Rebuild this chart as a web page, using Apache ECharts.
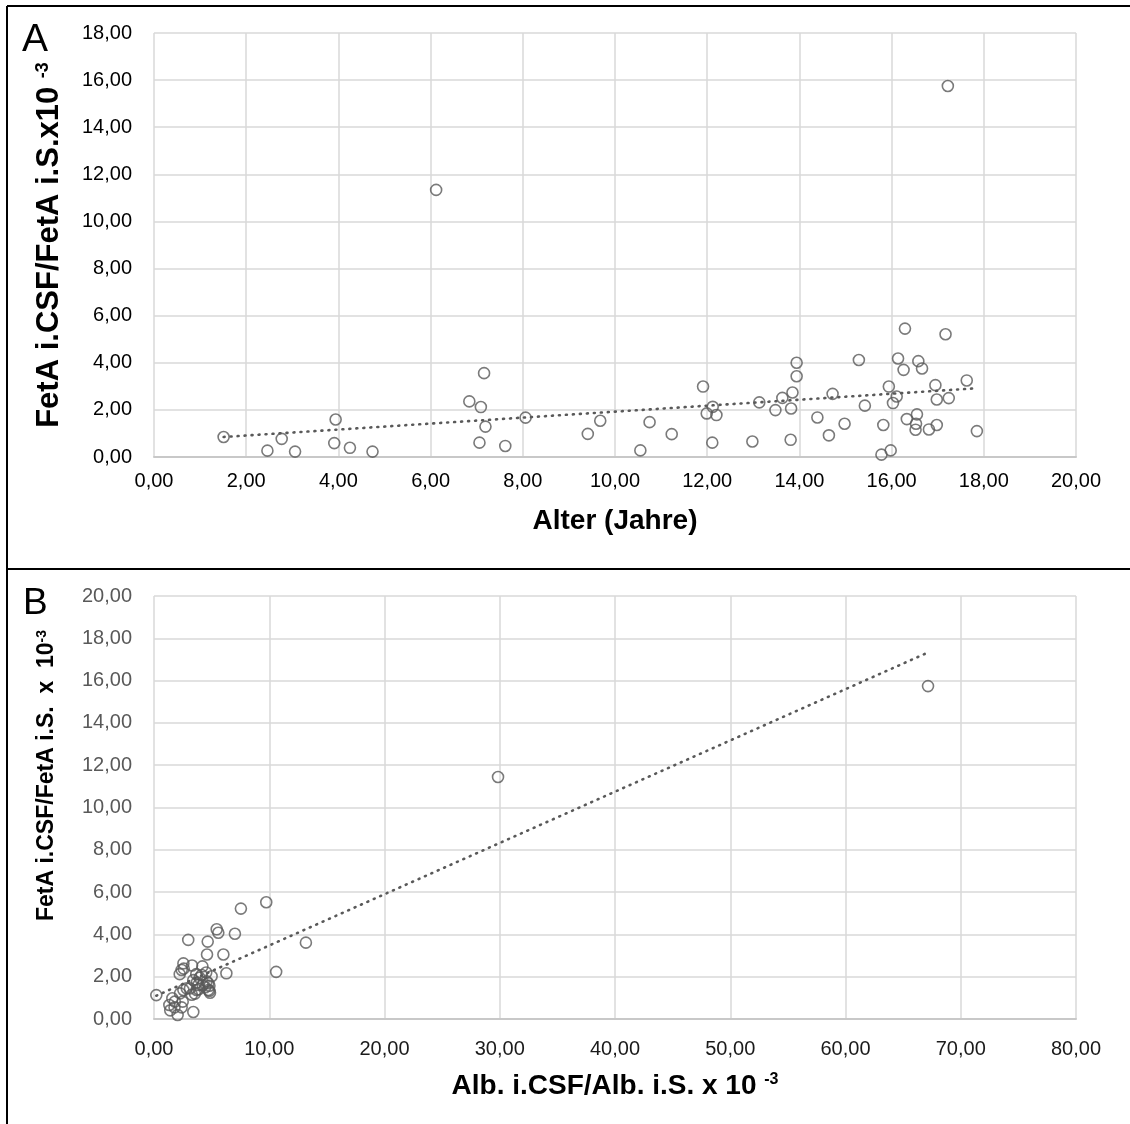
<!DOCTYPE html>
<html>
<head>
<meta charset="utf-8">
<script src="https://cdn.jsdelivr.net/npm/echarts@6/dist/echarts.min.js"></script>
<style>html,body{margin:0;padding:0;background:#fff}#c{width:1130px;height:1124px}</style>
</head>
<body>
<div id="c"></div>
<script>
// Panel A: Alter (Jahre) vs FetA ratio
const ageA = [1.51,2.46,2.77,3.06,3.91,3.94,4.25,4.74,6.12,6.84,7.09,7.16,7.19,7.06,7.62,8.06,9.41,9.68,10.55,10.75,11.23,11.91,11.99,12.12,12.20,12.11,12.98,13.13,13.48,13.63,13.82,13.81,13.85,13.94,13.94,14.39,14.64,14.72,14.98,15.29,15.42,15.82,15.78,15.98,15.94,16.03,16.11,16.14,16.29,16.26,16.33,16.55,16.53,16.52,16.58,16.66,16.81,16.95,16.98,16.98,17.17,17.24,17.22,17.63,17.85];
const fetA = [0.85,0.27,0.77,0.23,0.59,1.59,0.39,0.23,11.34,2.36,2.12,3.56,1.29,0.61,0.47,1.67,0.98,1.54,0.28,1.48,0.97,2.99,1.85,2.13,1.78,0.61,0.66,2.32,1.99,2.51,2.06,0.73,2.74,3.43,4.00,1.68,0.92,2.68,1.41,4.12,2.18,1.36,0.10,0.28,2.99,2.29,2.57,4.18,5.45,3.70,1.61,1.81,1.41,1.16,4.07,3.76,1.17,3.05,2.44,1.36,5.21,2.50,15.75,3.25,1.10];
// Panel B: Alb ratio vs FetA ratio
const albB = [0.20,1.59,1.33,1.41,2.05,3.41,1.78,1.81,2.49,2.40,3.28,2.55,2.26,2.84,3.12,3.70,3.87,3.85,3.41,3.72,2.23,2.40,2.58,2.55,2.97,3.30,3.67,4.14,4.20,4.53,5.00,4.57,4.71,4.22,4.81,4.71,4.81,4.86,4.60,4.66,5.44,5.58,6.02,6.28,7.02,7.54,9.74,10.60,13.18,29.85,67.16,3.95,4.45,3.55];
const fetB = [1.13,0.98,0.66,0.41,0.19,0.33,0.55,0.82,0.82,0.55,1.15,1.37,1.21,1.45,1.45,1.37,1.41,1.61,1.84,1.73,2.12,2.32,2.38,2.63,3.74,2.53,2.12,2.08,2.49,2.20,2.02,1.78,1.69,1.61,1.57,1.37,1.33,1.24,3.05,3.66,4.24,4.08,3.05,2.16,4.03,5.22,5.52,2.23,3.61,11.44,15.74,1.95,1.50,1.20];
// Trend lines (linear)
const trendAx = [1.51, 17.85];
const trendAy = [0.85, 2.92];
const trendBx = [0.20, 67.16];
const trendBy = [1.10, 17.33];
// Tick ranges
const xTicksA = {min: 0, max: 20, step: 2};
const yTicksA = {min: 0, max: 18, step: 2};
const xTicksB = {min: 0, max: 80, step: 10};
const yTicksB = {min: 0, max: 20, step: 2};

const zip = (a, b) => a.map((v, i) => [v, b[i]]);
const fmt = v => v.toFixed(2).replace('.', ',');
const FONT = "'Liberation Sans', Arial, sans-serif";
const grid = {color: '#d9d9d9', width: 1.5};

function xAx(idx, t, name, labelColor, margin, gap, rich) {
  return {
    type: 'value', gridIndex: idx, min: t.min, max: t.max, interval: t.step,
    axisLine: {show: true, lineStyle: {color: '#c8c8c8', width: 2}},
    axisTick: {show: false},
    splitLine: {show: true, lineStyle: grid},
    axisLabel: {fontSize: 20, color: labelColor, fontFamily: FONT, margin: margin, formatter: fmt},
    name: name, nameLocation: 'middle', nameGap: gap,
    nameTextStyle: {fontFamily: FONT, fontWeight: 'bold', fontSize: 28, color: '#000', rich: rich}
  };
}
function yAx(idx, t, name, labelColor, gap, rich, pad) {
  return {
    type: 'value', gridIndex: idx, min: t.min, max: t.max, interval: t.step,
    axisLine: {show: false}, axisTick: {show: false},
    splitLine: {show: true, lineStyle: grid},
    axisLabel: {fontSize: 20, color: labelColor, fontFamily: FONT, margin: 22, formatter: fmt},
    name: name, nameLocation: 'middle', nameRotate: 90, nameGap: gap,
    nameTextStyle: {fontFamily: FONT, rich: rich, padding: pad}
  };
}
const richA = {
  t: {fontFamily: FONT, fontWeight: 'bold', fontSize: 31, color: '#000'},
  s: {fontFamily: FONT, fontWeight: 'bold', fontSize: 18, color: '#000', verticalAlign: 'top'}
};
const richB = {
  t: {fontFamily: FONT, fontWeight: 'bold', fontSize: 23, color: '#000'},
  s: {fontFamily: FONT, fontWeight: 'bold', fontSize: 14, color: '#000', verticalAlign: 'top'}
};
const richBx = {
  t: {fontFamily: FONT, fontWeight: 'bold', fontSize: 28, color: '#000'},
  s: {fontFamily: FONT, fontWeight: 'bold', fontSize: 16, color: '#000', verticalAlign: 'top'}
};

const scatterStyle = {color: 'rgba(0,0,0,0)', borderColor: '#595959', borderWidth: 1.6};
const trendStyle = {color: '#595959', width: 2.6, type: [1, 6], cap: 'round'};

const option = {
  animation: false,
  backgroundColor: '#fff',
  grid: [
    {left: 154, top: 33, width: 922, height: 424},
    {left: 154, top: 596, width: 922, height: 423}
  ],
  xAxis: [
    xAx(0, xTicksA, 'Alter (Jahre)', '#000', 14, 50, null),
    xAx(1, xTicksB, '{t|Alb. i.CSF/Alb. i.S. x 10 }{s|-3}', '#1a1a1a', 20, 53, richBx)
  ],
  yAxis: [
    yAx(0, yTicksA, '{t|FetA i.CSF/FetA i.S.x10 }{s|-3}', '#000', 89, richA, [0, 0, 0, 0]),
    yAx(1, yTicksB, '{t|FetA i.CSF/FetA i.S.  x  10}{s|-3}', '#595959', 96, richB, [0, 0, 0, 64])
  ],
  series: [
    {type: 'line', xAxisIndex: 0, yAxisIndex: 0, data: zip(trendAx, trendAy), symbol: 'none', lineStyle: trendStyle, z: 1, silent: true},
    {type: 'scatter', xAxisIndex: 0, yAxisIndex: 0, data: zip(ageA, fetA), symbol: 'circle', symbolSize: 11, itemStyle: scatterStyle, z: 2},
    {type: 'line', xAxisIndex: 1, yAxisIndex: 1, data: zip(trendBx, trendBy), symbol: 'none', lineStyle: trendStyle, z: 1, silent: true},
    {type: 'scatter', xAxisIndex: 1, yAxisIndex: 1, data: zip(albB, fetB), symbol: 'circle', symbolSize: 11, itemStyle: scatterStyle, z: 2}
  ],
  graphic: [
    {type: 'line', shape: {x1: 7, y1: 6, x2: 1130, y2: 6}, style: {stroke: '#000', lineWidth: 2}},
    {type: 'line', shape: {x1: 7, y1: 6, x2: 7, y2: 1124}, style: {stroke: '#000', lineWidth: 2}},
    {type: 'line', shape: {x1: 7, y1: 569, x2: 1130, y2: 569}, style: {stroke: '#000', lineWidth: 2}},
    {type: 'text', left: 22, top: 21, style: {text: 'A', fontSize: 39, fontFamily: FONT, fill: '#000'}},
    {type: 'text', left: 23, top: 585, style: {text: 'B', fontSize: 37, fontFamily: FONT, fill: '#000'}}
  ]
};
const chart = echarts.init(document.getElementById('c'), null, {renderer: 'canvas'});
chart.setOption(option);
</script>
</body>
</html>
